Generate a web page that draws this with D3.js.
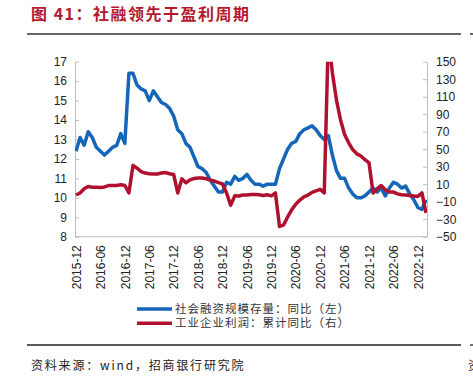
<!DOCTYPE html>
<html>
<head>
<meta charset="utf-8">
<script src="https://cdn.jsdelivr.net/npm/d3@7"></script>
<style>
  body { margin: 0; background: #fff; }
  svg { display: block; }
</style>
</head>
<body>
<div id="chart"></div>
<script>

// months 2015-12 .. 2023-02
let months = [];
for (let i = 0; i < 87; i++) {
    let d = new Date(2015, 11 + i, 1);
    months.push(d.getFullYear() + "-" + String(d.getMonth() + 1).padStart(2, "0"));
}

// 社会融资规模存量：同比（左）
let tsfValues = [
    12.4, 13.1, 12.7, 13.4, 13.1, 12.6, 12.4, 12.2, 12.4, 12.6, 12.7, 13.3, 12.8,
    16.4, 16.4, 15.8, 15.6, 15.5, 15.0, 15.5, 15.2, 14.9, 14.8, 14.6, 14.2,
    13.5, 13.3, 12.8, 12.6, 12.1, 11.6, 11.5, 11.3, 10.9, 10.6, 10.3, 10.3,
    10.8, 10.7, 11.1, 10.9, 11.0, 11.2, 10.9, 10.7, 10.7, 10.6, 10.7, 10.7,
    10.7, 11.5, 12.0, 12.5, 12.8, 12.9, 13.3, 13.5, 13.6, 13.7, 13.5, 13.2,
    13.0, 13.2, 12.2, 11.4, 11.0, 11.0, 10.5, 10.2, 10.0, 10.0, 10.1, 10.3,
    10.5, 10.3, 10.5, 10.1, 10.5, 10.8, 10.7, 10.5, 10.6, 10.2, 9.9, 9.5,
    9.4, 9.9
];

// 工业企业利润：累计同比（右）
let profitValues = [
    -2.3, 0, 4.8, 7.4, 6.5, 6.4, 6.2, 6.9, 8.4, 8.4, 8.6, 9.4, 8.5,
    0, 31.5, 28.3, 24.4, 22.7, 22.0, 21.6, 21.6, 22.8, 23.3, 21.9, 21.0,
    0, 16.1, 11.6, 15.0, 16.5, 17.2, 17.1, 16.2, 14.7, 13.6, 11.8, 10.3,
    0, -14.0, -3.3, -3.4, -2.3, -2.4, -1.7, -1.7, -2.1, -2.9, -2.1, -3.3,
    0, -38.3, -36.7, -27.4, -19.3, -12.8, -8.1, -4.4, -2.4, 0.7, 2.4, 4.1,
    0, 178.9, 137.3, 106.0, 83.4, 66.9, 57.3, 49.5, 44.7, 42.2, 38.0, 34.3,
    0, 5.0, 8.5, 3.5, 1.0, 1.0, -1.1, -2.1, -2.3, -3.0, -3.6, -4.0,
    0, -22.9
];

let xTickLabels = months.filter((m, i) => i % 6 == 0);
let leftTicks = [8, 9, 10, 11, 12, 13, 14, 15, 16, 17];
let rightTicks = [-50, -30, -10, 10, 30, 50, 70, 90, 110, 130, 150];

let seriesNames = ["社会融资规模存量：同比（左）", "工业企业利润：累计同比（右）"];
let seriesColors = ["#1565b8", "#b0112e"];

let width = 473, height = 376;
let plot = {left: 75, right: 427, top: 61.7, bottom: 236.7};
let cjk = "'Noto Sans CJK SC', sans-serif";
let latin = "'Liberation Sans', Arial, sans-serif";

let svg = d3.select("#chart").append("svg")
    .attr("width", width)
    .attr("height", height);

// title + rules
svg.append("text")
    .attr("x", 31)
    .attr("y", 20)
    .attr("fill", "#b3192f")
    .attr("font-family", cjk)
    .attr("font-weight", "bold")
    .attr("font-size", 16)
    .attr("letter-spacing", "1.5px")
    .text("图 41：社融领先于盈利周期");

svg.append("line")
    .attr("x1", 27).attr("x2", 461).attr("y1", 34).attr("y2", 34)
    .attr("stroke", "#333").attr("stroke-width", 1.5);
svg.append("line")
    .attr("x1", 470).attr("x2", 473).attr("y1", 34).attr("y2", 34)
    .attr("stroke", "#333").attr("stroke-width", 1.5);

svg.append("line")
    .attr("x1", 27).attr("x2", 461).attr("y1", 345).attr("y2", 345)
    .attr("stroke", "#222").attr("stroke-width", 1.3);
svg.append("line")
    .attr("x1", 470).attr("x2", 473).attr("y1", 345).attr("y2", 345)
    .attr("stroke", "#222").attr("stroke-width", 1.3);

svg.append("text")
    .attr("x", 31)
    .attr("y", 370)
    .attr("fill", "#222")
    .attr("font-family", cjk)
    .attr("font-size", 12)
    .attr("letter-spacing", "1.8px")
    .text("资料来源：wind，招商银行研究院");
svg.append("text")
    .attr("x", 468)
    .attr("y", 370)
    .attr("fill", "#222")
    .attr("font-family", cjk)
    .attr("font-size", 12)
    .text("资");

// scales
let xScale = d3.scalePoint()
    .domain(months)
    .range([76, 426]);

let yLeft = d3.scaleLinear()
    .domain([8, 17])
    .range([plot.bottom, plot.top]);

let yRight = d3.scaleLinear()
    .domain([-50, 150])
    .range([plot.bottom, plot.top]);

// axes
let leftAxis = svg.append("g")
    .attr("transform", "translate(" + plot.left + ",0)")
    .call(d3.axisLeft(yLeft).tickValues(leftTicks).tickSizeInner(-4).tickSizeOuter(0).tickPadding(8));

let rightAxis = svg.append("g")
    .attr("transform", "translate(" + plot.right + ",0)")
    .call(d3.axisRight(yRight).tickValues(rightTicks).tickSizeInner(-4).tickSizeOuter(0).tickPadding(9));

let bottomAxis = svg.append("g")
    .attr("transform", "translate(0," + plot.bottom + ")")
    .call(d3.axisBottom(xScale).tickValues(xTickLabels).tickSize(0));

svg.selectAll(".domain")
    .attr("stroke", "#bdbdbd");
bottomAxis.select(".domain")
    .attr("d", "M" + plot.left + ",0H" + plot.right);
svg.selectAll(".tick line")
    .attr("stroke", "#bdbdbd");
svg.selectAll(".tick text")
    .attr("fill", "#222")
    .attr("font-family", latin)
    .attr("font-size", 12);

bottomAxis.selectAll(".tick text")
    .attr("transform", "rotate(-90)")
    .attr("text-anchor", "end")
    .attr("x", -8.5)
    .attr("y", 0)
    .attr("dy", "0.35em");

// lines
svg.append("clipPath")
    .attr("id", "plotClip")
    .append("rect")
    .attr("x", plot.left)
    .attr("y", plot.top)
    .attr("width", plot.right - plot.left)
    .attr("height", plot.bottom - plot.top);

let lineLeft = d3.line()
    .x((d, i) => xScale(months[i]))
    .y(d => yLeft(d));

let lineRight = d3.line()
    .x((d, i) => xScale(months[i]))
    .y(d => yRight(d));

let lineGroup = svg.append("g").attr("clip-path", "url(#plotClip)");

lineGroup.append("path")
    .datum(tsfValues)
    .attr("d", lineLeft)
    .attr("fill", "none")
    .attr("stroke", seriesColors[0])
    .attr("stroke-width", 3.5)
    .attr("stroke-linejoin", "round");

lineGroup.append("path")
    .datum(profitValues)
    .attr("d", lineRight)
    .attr("fill", "none")
    .attr("stroke", seriesColors[1])
    .attr("stroke-width", 3.5)
    .attr("stroke-linejoin", "round");

// legend
let legend = svg.append("g")
    .selectAll("g")
    .data(seriesNames)
    .enter().append("g")
    .attr("transform", (d, i) => "translate(137," + (309 + i * 14.3) + ")");

legend.append("line")
    .attr("x1", 0).attr("x2", 35)
    .attr("stroke", (d, i) => seriesColors[i])
    .attr("stroke-width", 3.5);

legend.append("text")
    .attr("x", 38)
    .attr("dy", "0.36em")
    .attr("fill", "#333")
    .attr("font-family", cjk)
    .attr("font-size", 11.5)
    .attr("letter-spacing", "1px")
    .text(d => d);

</script>
</body>
</html>
